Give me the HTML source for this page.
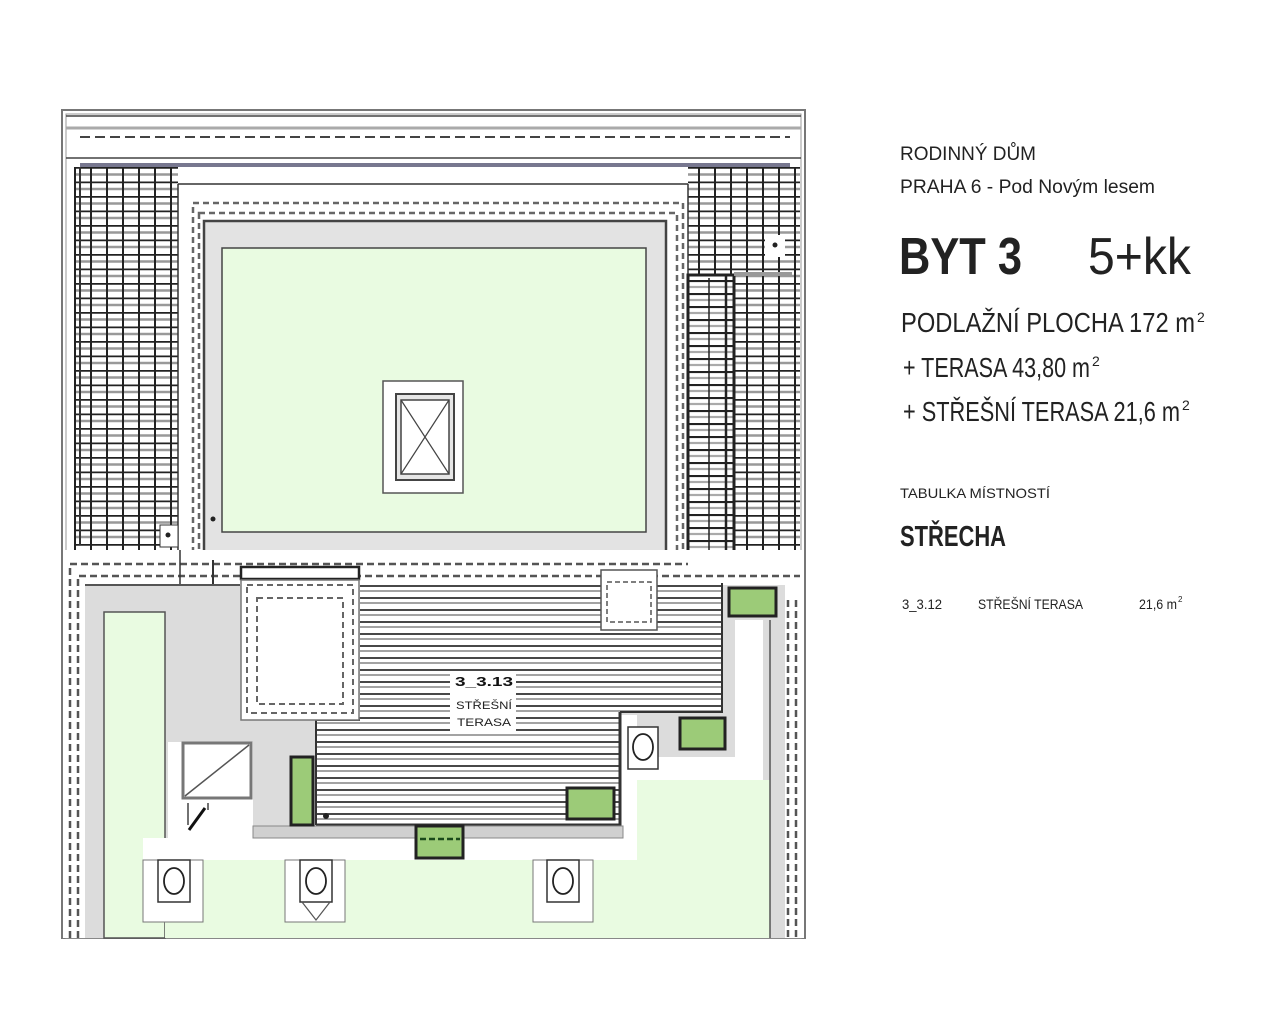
<!DOCTYPE html>
<html><head><meta charset="utf-8"><style>
html,body{margin:0;padding:0;background:#fff;width:1280px;height:1024px;overflow:hidden}
svg{position:absolute;left:0;top:0}
.t{font-family:"Liberation Sans",sans-serif;fill:#222}
</style></head><body>
<svg width="1280" height="1024" viewBox="0 0 1280 1024" xmlns="http://www.w3.org/2000/svg">
<defs>
<pattern id="grid" width="16" height="14.5" patternUnits="userSpaceOnUse" x="74" y="167">
<rect width="16" height="14.5" fill="#fff"/>
<path d="M0 0.5H16" stroke="#222" stroke-width="2.5"/>
<path d="M0 7.5H16" stroke="#999" stroke-width="2.5"/>
<path d="M1 0V14.5" stroke="#222" stroke-width="2"/>
</pattern>
<pattern id="hatch" width="10" height="12" patternUnits="userSpaceOnUse" x="0" y="585">
<rect width="10" height="12" fill="#fff"/>
<path d="M0 1H10" stroke="#333" stroke-width="1.8"/>
<path d="M0 6H10" stroke="#999" stroke-width="1.8"/>
</pattern>
<pattern id="stair" width="10" height="13" patternUnits="userSpaceOnUse" x="0" y="280">
<rect width="10" height="13" fill="#fff"/>
<path d="M0 1H10" stroke="#222" stroke-width="2.2"/>
<path d="M0 7H10" stroke="#aaa" stroke-width="2.2"/>
</pattern>
</defs>

<rect x="62" y="110" width="743" height="828" fill="#fff" stroke="#777" stroke-width="2"/>
<rect x="66" y="114" width="735" height="824" fill="none" stroke="#999" stroke-width="1"/>
<line x1="66" y1="116" x2="801" y2="116" stroke="#444" stroke-width="1.5"/>
<line x1="66" y1="128" x2="801" y2="128" stroke="#aaa" stroke-width="3"/>
<line x1="80" y1="137" x2="790" y2="137" stroke="#444" stroke-width="2" stroke-dasharray="10,5"/>
<line x1="66" y1="158" x2="801" y2="158" stroke="#444" stroke-width="1.5"/>
<line x1="80" y1="165" x2="790" y2="165" stroke="#77778f" stroke-width="4"/>

<rect x="74" y="167" width="104" height="383" fill="url(#grid)"/>
<rect x="688" y="167" width="112" height="383" fill="url(#grid)"/>
<line x1="80" y1="167" x2="80" y2="545" stroke="#333" stroke-width="2"/>
<rect x="178" y="184" width="510" height="380" fill="#fff"/>
<line x1="178" y1="184" x2="688" y2="184" stroke="#333" stroke-width="1.5"/>
<line x1="178" y1="184" x2="178" y2="550" stroke="#333" stroke-width="1.5"/>
<line x1="688" y1="184" x2="688" y2="275" stroke="#333" stroke-width="1.5"/>
<rect x="160" y="525" width="18" height="22" fill="#fff" stroke="#333" stroke-width="1"/>
<circle cx="168" cy="535" r="2.5" fill="#222"/>
<rect x="765" y="235" width="20" height="22" fill="#fff"/>
<circle cx="775" cy="245" r="2.5" fill="#222"/>

<rect x="193" y="203" width="490" height="370" fill="none" stroke="#666" stroke-width="2.5" stroke-dasharray="6,4"/>
<rect x="199" y="213" width="478" height="355" fill="none" stroke="#666" stroke-width="2.5" stroke-dasharray="6,4"/>
<rect x="204" y="221" width="462" height="340" fill="#e3e3e3" stroke="#444" stroke-width="2.5"/>
<rect x="222" y="248" width="424" height="284" fill="#e9fbe1" stroke="#444" stroke-width="1.5"/>
<circle cx="213" cy="519" r="2.5" fill="#222"/>
<rect x="383" y="381" width="80" height="112" fill="#fff" stroke="#555" stroke-width="1.5"/>
<rect x="396" y="394" width="58" height="86" fill="#e6e6e6" stroke="#444" stroke-width="2"/>
<rect x="401" y="400" width="48" height="74" fill="#fff" stroke="#444" stroke-width="1.5"/>
<path d="M401 400L449 474M449 400L401 474" stroke="#444" stroke-width="1.2"/>

<rect x="688" y="275" width="46" height="282" fill="url(#stair)" stroke="#222" stroke-width="3"/>
<line x1="709" y1="278" x2="709" y2="570" stroke="#222" stroke-width="1.5"/>
<line x1="726" y1="276" x2="726" y2="585" stroke="#222" stroke-width="2.5"/>
<rect x="734" y="272" width="58" height="4" fill="#999"/>

<rect x="62" y="550" width="743" height="388" fill="#fff" stroke="none"/>
<line x1="62" y1="550" x2="62" y2="938" stroke="#777" stroke-width="2"/>
<line x1="805" y1="550" x2="805" y2="938" stroke="#777" stroke-width="2"/>
<path d="M70 938V564H688" fill="none" stroke="#555" stroke-width="2.5" stroke-dasharray="7,4"/>
<path d="M78 938V576H800" fill="none" stroke="#555" stroke-width="2.5" stroke-dasharray="7,4"/>
<line x1="788" y1="600" x2="788" y2="938" stroke="#555" stroke-width="2.5" stroke-dasharray="7,4"/>
<line x1="796" y1="600" x2="796" y2="938" stroke="#555" stroke-width="2.5" stroke-dasharray="7,4"/>
<line x1="180" y1="550" x2="180" y2="585" stroke="#333" stroke-width="1.5"/>
<line x1="213" y1="560" x2="213" y2="585" stroke="#333" stroke-width="2"/>

<rect x="85" y="585" width="700" height="353" fill="#dcdcdc"/>
<line x1="85" y1="585" x2="240" y2="585" stroke="#555" stroke-width="2"/>
<rect x="104" y="612" width="61" height="326" fill="#e9fbe1" stroke="#555" stroke-width="1.5"/>
<rect x="165" y="860" width="605" height="78" fill="#e9fbe1"/>
<rect x="637" y="780" width="133" height="158" fill="#e9fbe1"/>
<rect x="168" y="742" width="85" height="96" fill="#fff"/>
<rect x="143" y="838" width="494" height="22" fill="#fff"/>
<rect x="620" y="715" width="17" height="145" fill="#fff"/>
<rect x="735" y="620" width="28" height="160" fill="#fff"/>
<rect x="637" y="757" width="126" height="23" fill="#fff"/>
<rect x="143" y="860" width="60" height="62" fill="#fff" stroke="#777" stroke-width="1"/>
<rect x="285" y="860" width="60" height="62" fill="#fff" stroke="#777" stroke-width="1"/>
<rect x="533" y="860" width="60" height="62" fill="#fff" stroke="#777" stroke-width="1"/>
<line x1="770" y1="620" x2="770" y2="938" stroke="#555" stroke-width="1.5"/>

<rect x="360" y="583" width="362" height="130" fill="url(#hatch)"/>
<rect x="316" y="712" width="304" height="113" fill="url(#hatch)"/>
<path d="M316 825V720H360M620 712H722V583" fill="none" stroke="#333" stroke-width="2"/>
<path d="M316 825H620V712" fill="none" stroke="#333" stroke-width="3"/>
<rect x="253" y="826" width="370" height="12" fill="#d0d0d0" stroke="#888" stroke-width="1"/>

<rect x="241" y="567" width="118" height="12" fill="#fff" stroke="#222" stroke-width="2.5"/>
<rect x="241" y="580" width="118" height="140" fill="#fff" stroke="#777" stroke-width="1.5"/>
<rect x="247" y="585" width="106" height="128" fill="none" stroke="#666" stroke-width="2" stroke-dasharray="6,4"/>
<rect x="257" y="598" width="86" height="106" fill="none" stroke="#666" stroke-width="2" stroke-dasharray="6,4"/>
<rect x="601" y="570" width="56" height="60" fill="#fff" stroke="#555" stroke-width="1.5"/>
<rect x="607" y="582" width="44" height="40" fill="none" stroke="#555" stroke-width="1.5" stroke-dasharray="5,3"/>

<rect x="183" y="743" width="68" height="55" fill="#fff" stroke="#777" stroke-width="3"/>
<line x1="185" y1="796" x2="249" y2="745" stroke="#555" stroke-width="1.5"/>
<path d="M188 803V825M208 803V810" stroke="#444" stroke-width="1.5"/>
<line x1="189" y1="830" x2="205" y2="808" stroke="#111" stroke-width="3"/>
<circle cx="326" cy="816" r="3" fill="#222"/>

<g fill="#9ccb78" stroke="#222" stroke-width="3">
<rect x="729" y="588" width="47" height="28"/>
<rect x="680" y="718" width="45" height="31"/>
<rect x="567" y="788" width="47" height="31"/>
<rect x="416" y="826" width="47" height="32"/>
<rect x="291" y="757" width="22" height="68"/>
</g>
<line x1="420" y1="839" x2="460" y2="839" stroke="#1a4a1a" stroke-width="2.5" stroke-dasharray="6,3"/>

<g fill="#fff" stroke="#333" stroke-width="1.5">
<rect x="628" y="727" width="30" height="42"/>
<rect x="158" y="860" width="32" height="42"/>
<rect x="300" y="860" width="32" height="42"/>
<rect x="547" y="860" width="32" height="42"/>
</g>
<g fill="none" stroke="#222" stroke-width="1.8">
<ellipse cx="643" cy="747" rx="10" ry="13"/>
<ellipse cx="174" cy="881" rx="10" ry="13"/>
<ellipse cx="316" cy="881" rx="10" ry="13"/>
<ellipse cx="563" cy="881" rx="10" ry="13"/>
</g>
<path d="M302 902L316 920L330 902" fill="none" stroke="#555" stroke-width="1.2"/>

<rect x="450" y="673" width="66" height="58" fill="#fff"/>
<text x="484" y="686" text-anchor="middle" font-family="Liberation Sans,sans-serif" font-weight="bold" font-size="13" fill="#111" textLength="58" lengthAdjust="spacingAndGlyphs">3_3.13</text>
<text x="484" y="709" text-anchor="middle" font-family="Liberation Sans,sans-serif" font-size="11" fill="#222" textLength="56" lengthAdjust="spacingAndGlyphs">STŘEŠNÍ</text>
<text x="484" y="726" text-anchor="middle" font-family="Liberation Sans,sans-serif" font-size="11" fill="#222" textLength="54" lengthAdjust="spacingAndGlyphs">TERASA</text>

<text class="t" x="900" y="160" font-size="19" textLength="136" lengthAdjust="spacingAndGlyphs">RODINNÝ DŮM</text>
<text class="t" x="900" y="193" font-size="19" textLength="255" lengthAdjust="spacingAndGlyphs">PRAHA 6 - Pod Novým lesem</text>
<text class="t" x="899" y="274" font-size="52" font-weight="bold" fill="#111" textLength="123" lengthAdjust="spacingAndGlyphs">BYT 3</text>
<text class="t" x="1088" y="274" font-size="52" fill="#111" textLength="103" lengthAdjust="spacingAndGlyphs">5+kk</text>
<text class="t" x="901" y="332" font-size="28" textLength="294" lengthAdjust="spacingAndGlyphs">PODLAŽNÍ PLOCHA  172 m</text>
<text class="t" x="1197" y="322" font-size="14">2</text>
<text class="t" x="903" y="377" font-size="28" textLength="187" lengthAdjust="spacingAndGlyphs">+ TERASA 43,80 m</text>
<text class="t" x="1092" y="366" font-size="14">2</text>
<text class="t" x="903" y="421" font-size="28" textLength="277" lengthAdjust="spacingAndGlyphs">+ STŘEŠNÍ TERASA 21,6 m</text>
<text class="t" x="1182" y="410" font-size="14">2</text>
<text class="t" x="900" y="498" font-size="14" textLength="150" lengthAdjust="spacingAndGlyphs">TABULKA MÍSTNOSTÍ</text>
<text class="t" x="900" y="546" font-size="29" font-weight="bold" fill="#111" textLength="106" lengthAdjust="spacingAndGlyphs">STŘECHA</text>
<text class="t" x="902" y="609" font-size="14" textLength="40" lengthAdjust="spacingAndGlyphs">3_3.12</text>
<text class="t" x="978" y="609" font-size="14" textLength="105" lengthAdjust="spacingAndGlyphs">STŘEŠNÍ TERASA</text>
<text class="t" x="1139" y="609" font-size="14" textLength="38" lengthAdjust="spacingAndGlyphs">21,6 m</text>
<text class="t" x="1178" y="602" font-size="8">2</text>
</svg>
</body></html>
